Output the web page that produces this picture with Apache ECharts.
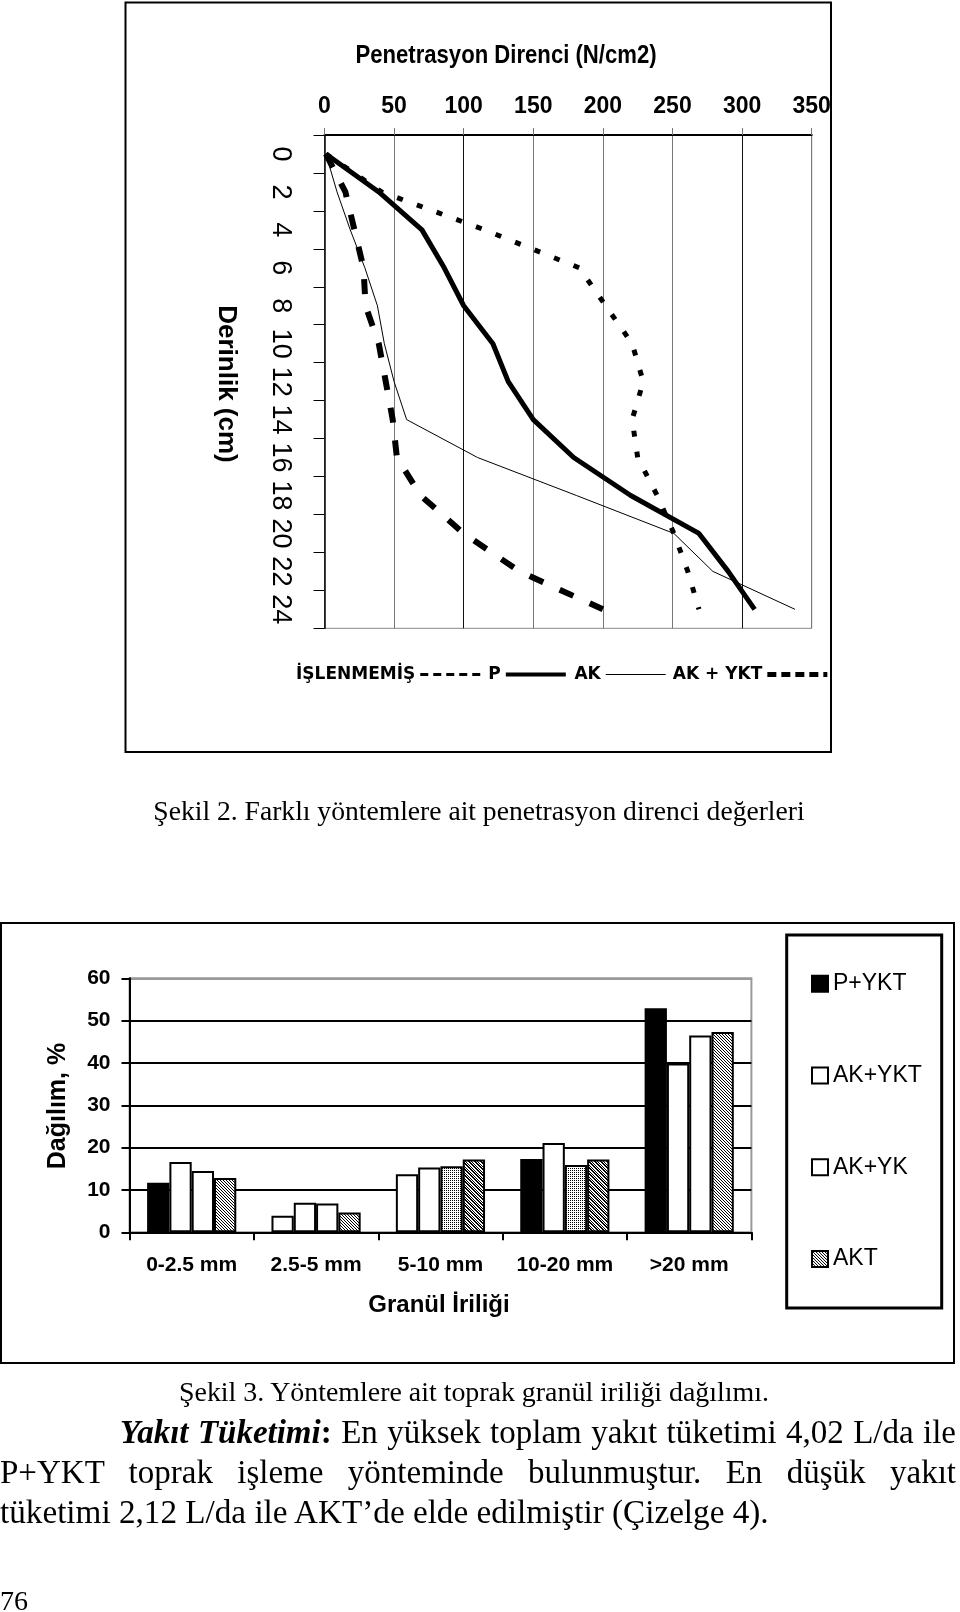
<!DOCTYPE html>
<html><head><meta charset="utf-8">
<script src="https://cdn.jsdelivr.net/npm/echarts@6/dist/echarts.min.js"></script>
<style>
html,body{margin:0;padding:0;background:#fff;}
#wrap{position:relative;width:960px;height:1612px;overflow:hidden;background:#fff;}
#chart{position:absolute;left:0;top:0;width:960px;height:1612px;}
.t{position:absolute;font-family:"Liberation Serif","Times New Roman",serif;color:#000;white-space:nowrap;margin:0;}
.j{text-align:justify;text-align-last:justify;}
</style></head><body>
<div id="wrap">
<div id="chart"></div>
<div class="t" style="left:0;width:958px;text-align:center;top:797px;font-size:27.6px;line-height:27.6px;">Şekil 2. Farklı yöntemlere ait penetrasyon direnci değerleri</div>
<div class="t" style="left:0;width:948px;text-align:center;top:1378px;font-size:27.9px;line-height:27.9px;">Şekil 3. Yöntemlere ait toprak granül iriliği dağılımı.</div>
<div class="t j" style="left:120px;width:836px;top:1416px;font-size:33px;line-height:33px;"><b><i>Yakıt Tüketimi</i>:</b> En yüksek toplam yakıt tüketimi 4,02 L/da ile</div>
<div class="t j" style="left:0;width:956px;top:1456px;font-size:33px;line-height:33px;">P+YKT toprak işleme yönteminde bulunmuştur. En düşük yakıt</div>
<div class="t" style="left:0;top:1495px;font-size:33.2px;line-height:33px;">tüketimi 2,12 L/da ile AKT’de elde edilmiştir (Çizelge 4).</div>
<div class="t" style="left:0;top:1587px;font-size:28px;line-height:28px;">76</div>
</div>
<script>
// ---- Figure 2: penetration resistance (N/cm2) by depth (cm) ----
const depthLabels = ['0','2','4','6','8','10','12','14','16','18','20','22','24'];
const islenmemis = [1, 41, 115, 183, 202, 221, 229, 221, 225, 239, 251, 261, 269];
const pVals      = [1, 39, 70, 86, 100, 121, 132, 150, 179, 220, 269, 290, 309];
const akVals     = [1, 9, 18.5, 29, 38, 43, 50, 59, 110, 181, 251, 279, 338];
const akYktVals  = [1, 15, 21.5, 28, 29.5, 39, 44, 49, 52, 69, 100, 140, 200];

// ---- Figure 3: granule size distribution (%) ----
const granulCats = ['0-2.5 mm', '2.5-5 mm', '5-10 mm', '10-20 mm', '>20 mm'];
const pYkt  = [11.7, 3.9, 13.7, 17.3, 52.9];
const akYkt = [16.6, 7.0, 15.3, 21.1, 39.9];
const akYk  = [14.5, 6.8, 15.6, 15.9, 46.5];
const akt   = [12.8, 4.7, 17.2, 17.2, 47.3];

// fill codes per bar (k black, w white, h light hatch, H dark hatch, d dotted)
const fillCodes = {
  'P+YKT':  ['k','w','w','k','k'],
  'AK+YKT': ['w','w','w','w','w'],
  'AK+YK':  ['w','w','d','d','w'],
  'AKT':    ['h','h','H','H','h']
};
const seriesFill = {'P+YKT':'k', 'AK+YKT':'w', 'AK+YK':'w', 'AKT':'h'};

function pattern(kind){
  const c = document.createElement('canvas');
  const n = 6; c.width = n; c.height = n;
  const g = c.getContext('2d');
  g.fillStyle = '#fff'; g.fillRect(0,0,n,n);
  g.fillStyle = '#000';
  for (let x=0;x<n;x++) for (let y=0;y<n;y++){
    const m = ((x - y) % 3 + 3) % 3;
    if (kind==='h' && m===0) g.fillRect(x,y,1,1);
    if (kind==='H' && (m===0 || (m===1 && (x+y)%2===0))) g.fillRect(x,y,1,1);
    if (kind==='d' && (x%2===0 && y%2===0)) g.fillRect(x,y,1,1);
  }
  return {image: c, repeat: 'repeat'};
}
const fills = {k:'#000', w:'#fff', h:pattern('h'), H:pattern('H'), d:pattern('d')};

const sans = '"Liberation Sans",Arial,sans-serif';

function barSeries(name, vals){
  return {
    type:'bar', name, xAxisIndex:1, yAxisIndex:1,
    barGap:'0%', barCategoryGap:'28.3%',
    itemStyle:{color: fills[seriesFill[name]], borderColor:'#000', borderWidth:2},
    data: vals.map((v,i)=>({value:v, itemStyle:{color: fills[fillCodes[name][i]]}}))
  };
}

const chart = echarts.init(document.getElementById('chart'), null, {renderer:'canvas', width:960, height:1612});
chart.setOption({
  animation:false,
  backgroundColor:'transparent',
  grid:[
    {left:324.5, top:135, width:487.2, height:493.3, show:true, borderColor:'#888', borderWidth:1, outerBoundsMode:'none', containLabel:false},
    {left:129.5, top:978.3, width:621.9, height:254, show:true, borderColor:'#999', borderWidth:2, outerBoundsMode:'none', containLabel:false}
  ],
  xAxis:[
    {gridIndex:0, type:'value', position:'top', min:0, max:350, interval:50,
     axisLine:{show:true, onZero:false, lineStyle:{color:'#000', width:2}},
     axisTick:{show:true, length:7, lineStyle:{color:'#777', width:1}},
     axisLabel:{color:'#000', fontFamily:sans, fontWeight:'bold', fontSize:23, margin:17},
     splitLine:{show:true, lineStyle:{color:['#777','#777','#111','#777','#777','#777','#111','#777'], width:1}}},
    {gridIndex:1, type:'category', data:granulCats,
     axisLine:{show:true, lineStyle:{color:'#000', width:2}},
     axisTick:{show:true, length:8, lineStyle:{color:'#000', width:2}},
     axisLabel:{interval:0, color:'#000', fontFamily:sans, fontWeight:'bold', fontSize:21, margin:22},
     splitLine:{show:false}}
  ],
  yAxis:[
    {gridIndex:0, type:'category', data:depthLabels, inverse:true, boundaryGap:true,
     axisLine:{show:true, onZero:false, lineStyle:{color:'#000', width:1.5}},
     axisTick:{show:true, length:11, lineStyle:{color:'#000', width:1}},
     axisLabel:{interval:0, rotate:-90, color:'#000', fontFamily:sans, fontSize:27, margin:31},
     splitLine:{show:false}},
    {gridIndex:1, type:'value', min:0, max:60, interval:10,
     axisLine:{show:true, lineStyle:{color:'#000', width:2}},
     axisTick:{show:true, length:8, lineStyle:{color:'#000', width:2}},
     axisLabel:{color:'#000', fontFamily:sans, fontWeight:'bold', fontSize:21, margin:19},
     splitLine:{show:true, lineStyle:{color:['#000','#000','#000','#000','#000','#000','#999'], width:2}}}
  ],
  legend:[
    {left:296, top:666, padding:0, orient:'horizontal', align:'right', itemWidth:60, itemHeight:10, itemGap:6.6,
     selectedMode:false, itemStyle:{opacity:0},
     textStyle:{fontFamily:'"DejaVu Sans",Verdana,sans-serif', fontWeight:'bold', fontSize:17, color:'#000'},
     data:[
       {name:'İŞLENMEMİŞ', lineStyle:{width:3, type:[8,5], color:'#000'}},
       {name:'P', lineStyle:{width:4, color:'#000'}},
       {name:'AK', lineStyle:{width:1, color:'#000'}},
       {name:'AK + YKT', lineStyle:{width:5, type:[9,5], color:'#000'}}
     ]},
    {left:811, top:971.8, padding:0, orient:'vertical', itemWidth:16, itemHeight:16, itemGap:67.7, icon:'rect',
     selectedMode:false, itemStyle:{borderColor:'#000', borderWidth:2},
     textStyle:{fontFamily:sans, fontSize:23, color:'#000', lineHeight:24},
     data:['P+YKT','AK+YKT','AK+YK','AKT']}
  ],
  series:[
    {type:'line', name:'İŞLENMEMİŞ', xAxisIndex:0, yAxisIndex:0, data:islenmemis, symbol:'none',
     lineStyle:{color:'#000', width:5, type:[6,15]}},
    {type:'line', name:'P', xAxisIndex:0, yAxisIndex:0, data:pVals, symbol:'none',
     lineStyle:{color:'#000', width:5}},
    {type:'line', name:'AK', xAxisIndex:0, yAxisIndex:0, data:akVals, symbol:'none',
     lineStyle:{color:'#000', width:1}},
    {type:'line', name:'AK + YKT', xAxisIndex:0, yAxisIndex:0, data:akYktVals, symbol:'none',
     lineStyle:{color:'#000', width:6, type:[15,18]}},
    barSeries('P+YKT', pYkt),
    barSeries('AK+YKT', akYkt),
    barSeries('AK+YK', akYk),
    barSeries('AKT', akt)
  ],
  graphic:[
    {type:'rect', shape:{x:125.5, y:2.5, width:705.5, height:749.5}, style:{fill:null, stroke:'#000', lineWidth:2}, silent:true},
    {type:'rect', shape:{x:1, y:923, width:953, height:440}, style:{fill:null, stroke:'#000', lineWidth:2}, silent:true},
    {type:'rect', shape:{x:786.7, y:935, width:155, height:373}, style:{fill:null, stroke:'#000', lineWidth:3}, silent:true},
    {type:'text', x:506, y:56, scaleX:0.885, silent:true,
     style:{text:'Penetrasyon Direnci (N/cm2)', fill:'#000', font:'bold 25px ' + sans, align:'center', verticalAlign:'middle', textAlign:'center', textVerticalAlign:'middle'}},
    {type:'text', x:226, y:384, rotation:-Math.PI/2, silent:true,
     style:{text:'Derinlik (cm)', fill:'#000', font:'bold 26px ' + sans, align:'center', verticalAlign:'middle', textAlign:'center', textVerticalAlign:'middle'}},
    {type:'text', x:58.6, y:1106, rotation:Math.PI/2, silent:true,
     style:{text:'Dağılım, %', fill:'#000', font:'bold 25px ' + sans, align:'center', verticalAlign:'middle', textAlign:'center', textVerticalAlign:'middle'}},
    {type:'text', x:439, y:1305, silent:true,
     style:{text:'Granül İriliği', fill:'#000', font:'bold 24px ' + sans, align:'center', verticalAlign:'middle', textAlign:'center', textVerticalAlign:'middle'}}
  ]
});
</script>
</body></html>
